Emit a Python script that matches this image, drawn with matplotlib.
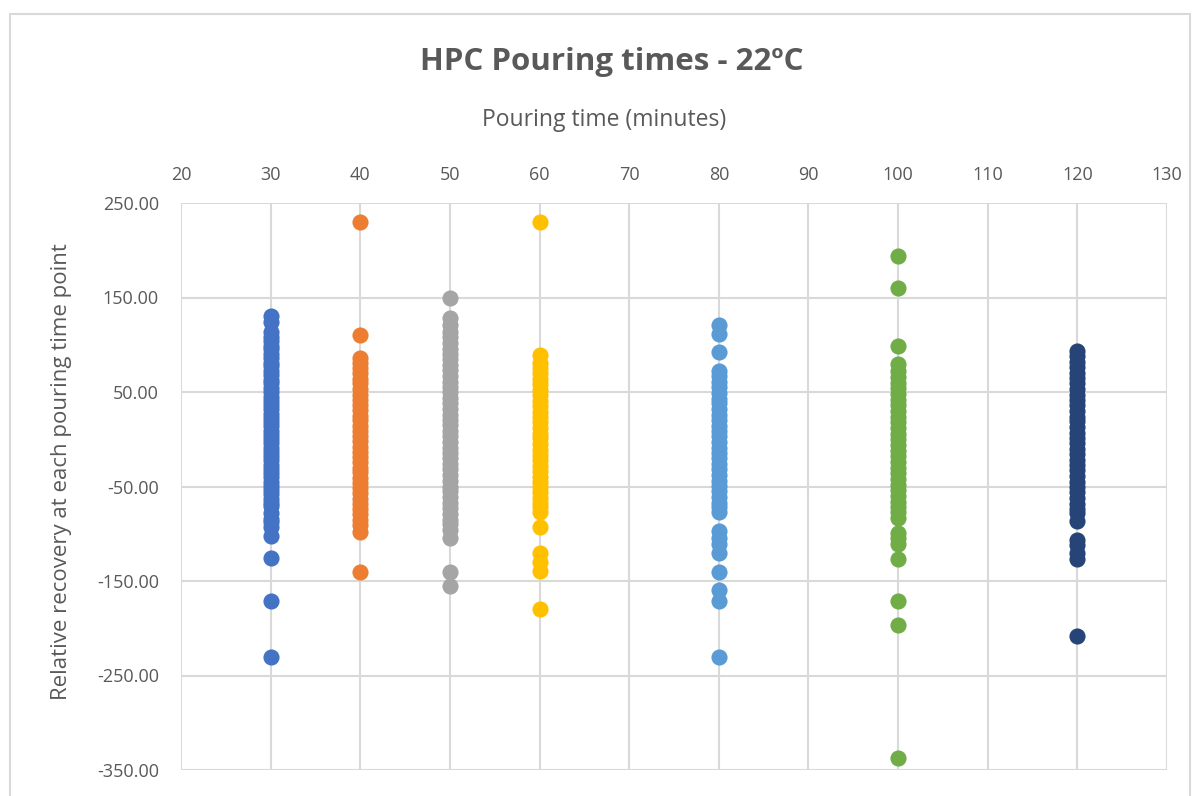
import matplotlib
matplotlib.use("Agg")
import matplotlib.pyplot as plt
from matplotlib.patches import Rectangle
from matplotlib.ticker import FormatStrFormatter, MultipleLocator

plt.rcParams['font.family'] = ['Open Sans', 'DejaVu Sans']

# Pouring time points (minutes)
pour_times = [30, 40, 50, 60, 80, 100, 120]

# Relative recovery values at each pouring time point
rec_30 = [130, 124, 113, 108, 104, 99, 95, 90, 86, 81, 77, 72, 68, 63, 59, 54, 50, 45, 41, 36,
          32, 27, 23, 18, 14, 9, 5, 0, -4, -9, -13, -18, -22, -27, -31, -36, -40, -45, -49, -54,
          -58, -63, -67, -71, -78, -84, -88, -93, -102, -126, -171, -230]
rec_40 = [230, 110, 86, 81, 75, 70, 64, 59, 53, 47, 42, 36, 31, 25, 20, 14, 9, 3, -2, -8,
          -13, -19, -24, -30, -35, -41, -46, -52, -57, -63, -68, -74, -79, -85, -91, -98, -140]
rec_50 = [150, 128, 121, 114, 108, 102, 96, 90, 85, 79, 73, 67, 61, 55, 50, 44, 38, 32, 26, 20,
          15, 9, 3, -3, -9, -15, -20, -26, -32, -38, -44, -50, -55, -61, -67, -73, -79, -85, -90,
          -96, -105, -140, -155]
rec_60 = [230, 89, 81, 75, 70, 64, 58, 52, 47, 41, 35, 29, 24, 18, 12, 6, 1, -5, -11, -17,
          -22, -28, -34, -40, -45, -51, -56, -62, -67, -72, -77, -93, -120, -130, -139, -180]
rec_80 = [121, 111, 92, 72, 67, 61, 55, 49, 43, 38, 32, 26, 20, 14, 9, 3, -3, -9, -15, -20,
          -26, -32, -38, -44, -49, -55, -61, -67, -72, -77, -97, -104, -111, -120, -140, -160,
          -171, -230]
rec_100 = [194, 160, 99, 80, 72, 66, 60, 54, 48, 42, 36, 30, 24, 18, 12, 6, 0, -6, -12, -18,
           -24, -30, -36, -42, -48, -54, -60, -66, -72, -77, -83, -99, -105, -111, -127, -171,
           -197, -337]
rec_120 = [93, 88, 82, 76, 70, 65, 59, 53, 47, 42, 36, 30, 24, 19, 13, 7, 1, -4, -10, -16,
           -22, -27, -33, -39, -45, -50, -56, -62, -68, -74, -78, -86, -107, -112, -120, -127,
           -208]

series = [rec_30, rec_40, rec_50, rec_60, rec_80, rec_100, rec_120]
colors = ['#4472C4', '#ED7D31', '#A5A5A5', '#FFC000', '#5B9BD5', '#70AD47', '#264478']

fig = plt.figure(figsize=(12, 7.96), dpi=100)
ax = fig.add_axes([181 / 1200, 1 - 770 / 796, (1167 - 181) / 1200, (770 - 203) / 796])

for t, vals, c in zip(pour_times, series, colors):
    ax.scatter([t] * len(vals), vals, s=135, color=c, linewidths=0, zorder=3)

ax.set_xlim(20, 130)
ax.set_ylim(-350, 250)
ax.xaxis.set_major_locator(MultipleLocator(10))
ax.set_yticks([-350, -250, -150, -50, 50, 150, 250])
ax.yaxis.set_major_formatter(FormatStrFormatter('%.2f'))
ax.xaxis.tick_top()
ax.tick_params(axis='both', length=0, labelsize=13, labelcolor='#595959')
ax.tick_params(axis='x', pad=14)
ax.tick_params(axis='y', pad=16)
ax.grid(True, color='#D9D9D9', linewidth=1.5, zorder=0)
ax.set_axisbelow(True)
for s in ax.spines.values():
    s.set_visible(False)

fig.text(604 / 1200, 1 - 120 / 796, 'Pouring time (minutes)', ha='center', va='center',
         fontsize=16.5, color='#595959')
fig.text(62 / 1200, 1 - 472 / 796, 'Relative recovery at each pouring time point',
         ha='center', va='center', rotation=90, fontsize=16, color='#595959')
fig.text(612 / 1200, 1 - 62 / 796, 'HPC Pouring times - 22ºC', ha='center', va='center',
         fontsize=22.5, fontweight='bold', color='#595959')

fig.patches.append(Rectangle((10 / 1200, -0.05), 1180 / 1200, 1.05 - 14 / 796,
                             transform=fig.transFigure, fill=False, edgecolor='#D9D9D9',
                             linewidth=1.5))

fig.savefig('out.png', dpi=100, facecolor='white')
